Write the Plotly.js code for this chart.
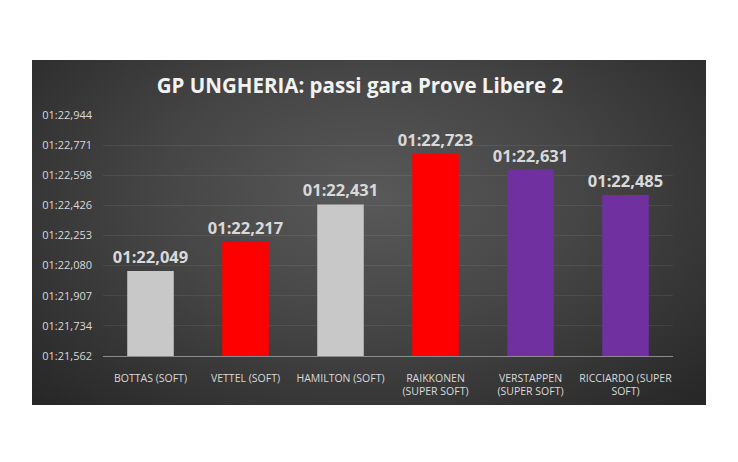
<!DOCTYPE html>
<html>
<head>
<meta charset="utf-8">
<script src="https://cdn.plot.ly/plotly-3.0.1.min.js"></script>
<style>
  html, body { margin: 0; padding: 0; background: #ffffff; }
  #wrap { position: relative; width: 738px; height: 462px; }
  #panel {
    position: absolute; left: 32px; top: 60px; width: 674px; height: 345px;
    background: radial-gradient(ellipse at 50% 40%, #595959 0%, #454545 45%, #262626 100%);
  }
  #chart { position: absolute; left: 0; top: 0; width: 738px; height: 462px; }
</style>
</head>
<body>
<div id="wrap">
  <div id="panel"></div>
  <div id="chart"></div>
</div>
<script>
// Drivers and compounds
const drivers = [
  "BOTTAS (SOFT)",
  "VETTEL (SOFT)",
  "HAMILTON (SOFT)",
  "RAIKKONEN<br>(SUPER SOFT)",
  "VERSTAPPEN<br>(SUPER SOFT)",
  "RICCIARDO (SUPER<br>SOFT)"
];

// Average race-pace lap times, seconds
const lapTimes = [82.049, 82.217, 82.431, 82.723, 82.631, 82.485];

// Bar colours by team
const barColors = ["#c8c8c8", "#ff0000", "#c8c8c8", "#ff0000", "#7030a0", "#7030a0"];

// Y axis ticks (seconds) and their lap-time labels
const yTickVals = [81.562, 81.7348, 81.9075, 82.0803, 82.253, 82.4258, 82.5985, 82.7713, 82.944];
const yTickText = ["01:21,562", "01:21,734", "01:21,907", "01:22,080", "01:22,253",
                   "01:22,426", "01:22,598", "01:22,771", "01:22,944"];

// Format seconds as mm:ss,mmm
function fmtLap(t) {
  const m = Math.floor(t / 60);
  const s = t - m * 60;
  const ss = Math.floor(s);
  const ms = Math.round((s - ss) * 1000);
  return String(m).padStart(2, "0") + ":" + String(ss).padStart(2, "0") + "," + String(ms).padStart(3, "0");
}

const FONT = "'Open Sans', 'Noto Sans', sans-serif";

const trace = {
  type: "bar",
  x: drivers,
  y: lapTimes,
  marker: { color: barColors },
  width: 0.49,
  text: lapTimes.map(fmtLap),
  textposition: "outside",
  constraintext: "none",
  cliponaxis: false,
  textfont: { family: FONT, size: 16.5, color: "#d9d9d9", weight: "bold" },
  hoverinfo: "skip"
};

const layout = {
  width: 738,
  height: 462,
  paper_bgcolor: "rgba(0,0,0,0)",
  plot_bgcolor: "rgba(0,0,0,0)",
  margin: { l: 103, r: 65, t: 115, b: 106 },
  showlegend: false,
  title: {
    text: "<b>GP UNGHERIA: passi gara Prove Libere 2</b>",
    font: { family: FONT, size: 20.5, color: "#f2f2f2" },
    x: 360 / 738, xref: "container", xanchor: "center",
    y: 1 - 86 / 462, yref: "container", yanchor: "middle"
  },
  xaxis: {
    type: "category",
    showgrid: false,
    zeroline: false,
    showline: true,
    linecolor: "#8c8c8c",
    linewidth: 1,
    ticks: "",
    ticklabelstandoff: 12,
    tickfont: { family: FONT, size: 10.5, color: "#d9d9d9" },
    fixedrange: true
  },
  yaxis: {
    range: [81.562, 82.944],
    tickvals: yTickVals,
    ticktext: yTickText,
    showgrid: true,
    gridcolor: "rgba(255,255,255,0.07)",
    gridwidth: 1,
    zeroline: false,
    showline: false,
    ticks: "",
    ticklabelstandoff: 10,
    tickfont: { family: FONT, size: 11, color: "#d9d9d9" },
    fixedrange: true
  },
  bargap: 0.5
};

Plotly.newPlot("chart", [trace], layout, { displayModeBar: false, staticPlot: true });
</script>
</body>
</html>
